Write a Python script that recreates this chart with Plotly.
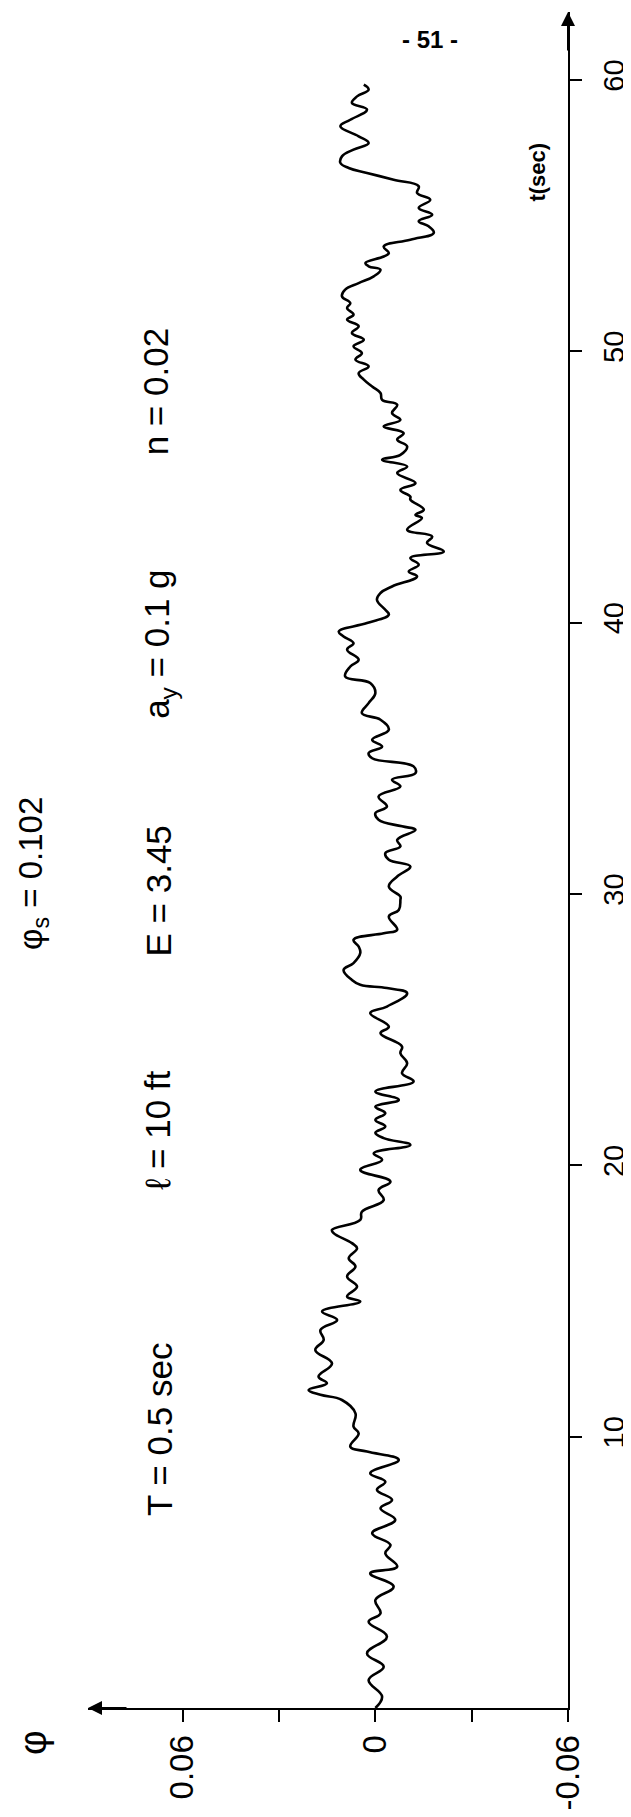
import plotly.graph_objects as go

# time (s) and rotation phi
t_sec = [0.0, 0.42, 1.03, 1.52, 2.01, 2.63, 3.18, 3.49, 3.98, 4.47, 4.96, 5.21, 5.70, 6.01, 6.44,
         6.93, 7.36, 7.67, 8.04, 8.34, 8.65, 9.14, 9.45, 9.63, 10.12, 10.37, 10.86, 11.35, 11.54,
         11.72, 11.97, 12.21, 12.70, 13.19, 13.56, 13.93, 14.30, 14.61, 14.98,
         15.16, 15.53, 15.90, 16.27, 16.57, 16.94, 17.13, 17.50, 17.62, 17.99, 18.29, 18.72, 19.09,
         19.40, 19.83, 20.20, 20.44, 20.75, 21.00, 21.20, 21.43, 21.67, 21.92, 22.16, 22.41, 22.72,
         23.09, 23.39, 23.76, 24.13, 24.38, 24.87, 25.11, 25.61, 25.85, 26.34, 26.53, 26.65, 26.83,
         27.20, 27.45, 27.82, 28.06, 28.31, 28.55, 28.68, 29.17, 29.41, 29.78,
         29.90, 30.27, 30.64, 31.01, 31.26, 31.50, 31.75, 31.99, 32.36, 32.49, 32.73, 32.98, 33.22,
         33.59, 33.96, 34.21, 34.45, 34.70, 35.00, 35.19, 35.43, 35.68, 36.05, 36.42, 36.66, 37.03,
         37.40, 37.77, 38.01, 38.38, 38.63, 39.00, 39.24, 39.49, 39.67, 39.98, 40.29, 40.47, 40.84,
         41.09, 41.33, 41.70, 41.88, 42.13, 42.38, 42.62, 42.93, 43.17, 43.42, 43.85, 43.97, 44.16,
         44.53, 44.64, 44.89, 45.14, 45.51, 45.75, 46.00, 46.18, 46.49, 46.74, 46.98, 47.23, 47.47,
         47.72, 48.03, 48.21, 48.46, 48.70, 48.95, 49.19, 49.44, 49.69, 49.93, 50.18, 50.42, 50.67,
         50.92, 51.16, 51.35, 51.59, 51.77, 52.02, 52.27, 52.51, 52.76, 53.00, 53.13, 53.25, 53.49,
         53.62, 53.86, 54.11, 54.36, 54.60, 54.79, 55.03, 55.28, 55.58, 55.83, 56.08, 56.32, 56.57,
         56.75, 56.94, 57.18, 57.43, 57.67, 57.92, 58.29, 58.53, 58.90, 59.15, 59.39, 59.64, 59.82]

phi = [0.0, -0.0021, 0.0021, -0.0026, 0.0026, -0.0036, 0.0021, -0.0016, 0.0000, -0.0057, 0.0016,
       -0.0068, -0.0031, -0.0047, 0.0010, -0.0062, -0.0016, -0.0052, -0.0005, -0.0031, 0.0016,
       -0.0073, 0.0026, 0.0078, 0.0052, 0.0068, 0.0062, 0.0104, 0.0171, 0.0208, 0.0151, 0.0177,
       0.0135, 0.0187, 0.0161, 0.0171, 0.0119, 0.0166, 0.0047,
       0.0088, 0.0057, 0.0088, 0.0062, 0.0083, 0.0057, 0.0073, 0.0130, 0.0135, 0.0047, 0.0042,
       -0.0026, -0.0010, -0.0047, 0.0047, -0.0021, 0.0005, -0.0109, -0.0026, 0.0000, -0.0031,
       0.0000, -0.0031, 0.0000, -0.0073, 0.0000, -0.0119, -0.0083, -0.0099, -0.0078, -0.0083,
       -0.0016, -0.0042, 0.0016, -0.0036, -0.0099, -0.0036, 0.0047, 0.0073, 0.0099, 0.0068,
       0.0047, 0.0052, 0.0068, -0.0026, -0.0068, -0.0042, -0.0073, -0.0078,
       -0.0078, -0.0042, -0.0068, -0.0109, -0.0042, -0.0031, -0.0078, -0.0068, -0.0125, -0.0083,
       -0.0010, 0.0000, -0.0036, -0.0010, -0.0078, -0.0052, -0.0125, -0.0119, 0.0010, 0.0021,
       -0.0021, 0.0010, -0.0042, -0.0016, 0.0042, 0.0021, 0.0000, 0.0016, 0.0094, 0.0078, 0.0052,
       0.0088, 0.0068, 0.0099, 0.0114, 0.0026, -0.0042, -0.0031, -0.0005, -0.0016, -0.0052,
       -0.0130, -0.0104, -0.0135, -0.0109, -0.0213, -0.0161, -0.0177, -0.0099, -0.0145, -0.0125,
       -0.0151, -0.0109, -0.0109, -0.0078, -0.0125, -0.0068, -0.0099, -0.0021, -0.0078, -0.0099,
       -0.0068, -0.0088, -0.0026, -0.0078, -0.0052, -0.0068, -0.0021, -0.0016, 0.0010, 0.0036,
       0.0052, 0.0021, 0.0062, 0.0042, 0.0068, 0.0036, 0.0073, 0.0052, 0.0088, 0.0068, 0.0088,
       0.0078, 0.0104, 0.0094, 0.0052, 0.0005, -0.0016, 0.0021, 0.0031, -0.0026, -0.0042,
       -0.0026, -0.0109, -0.0182, -0.0166, -0.0135, -0.0177, -0.0135, -0.0171, -0.0130, -0.0135,
       -0.0057, 0.0026, 0.0083, 0.0109, 0.0104, 0.0068, 0.0021, 0.0052, 0.0109, 0.0078, 0.0026,
       0.0073, 0.0057, 0.0021, 0.0036]

phi_ticks = [0.06, 0.03, 0.0, -0.03, -0.06]
phi_tick_labels = ["0.06", "", "0", "", "-0.06"]
t_ticks = [10, 20, 30, 40, 50, 60]
t_tick_labels = ["10", "20", "30", "40", "50", "60"]

PHI_MAX = 0.0895   # arrow tip of phi axis
T_MAX = 62.5       # arrow tip of time axis

FONT = "Liberation Sans"

fig = go.Figure(go.Scatter(
    x=phi, y=t_sec, mode="lines",
    line=dict(color="black", width=2.6, shape="spline", smoothing=1.2),
    hoverinfo="skip"))

# the page adds an 8 px body margin, so the figure is 8 px smaller than the window
fig.update_layout(
    width=623, height=1809,
    margin=dict(l=80, r=63, t=4, b=109),
    paper_bgcolor="white", plot_bgcolor="white",
    showlegend=False,
    font=dict(family=FONT, color="black"),
)

fig.update_xaxes(
    range=[PHI_MAX, -0.06], tickvals=phi_ticks, ticktext=phi_tick_labels,
    ticks="outside", ticklen=12, tickwidth=2, tickcolor="black",
    showline=True, linewidth=2, linecolor="black", automargin=False,
    showgrid=False, zeroline=False, tickangle=-90, ticklabelstandoff=0,
    tickfont=dict(family=FONT, size=33, color="black"),
)
fig.update_yaxes(
    range=[0, T_MAX], side="right", tickvals=t_ticks, ticktext=t_tick_labels,
    ticks="outside", ticklen=12, tickwidth=2, tickcolor="black",
    showline=True, linewidth=2, linecolor="black", automargin=False,
    showgrid=False, zeroline=False, tickangle=-90, ticklabelstandoff=7,
    tickfont=dict(family=FONT, size=29, color="black"),
)

# axis arrowheads
fig.add_annotation(x=PHI_MAX, y=0, xref="x", yref="y", text="", showarrow=True,
                   ax=40, ay=0, arrowhead=2, arrowsize=1.4, arrowwidth=2, arrowcolor="black")
fig.add_annotation(x=-0.06, y=T_MAX, xref="x", yref="y", text="", showarrow=True,
                   ax=0, ay=40, arrowhead=2, arrowsize=1.4, arrowwidth=2, arrowcolor="black")

labels = [
    ("T = 0.5 sec", 0.067, 10.25, 35),
    ("\u2113 = 10 ft", 0.068, 21.3, 35),
    ("E = 3.45", 0.0676, 30.1, 35),
    ("a<sub>y</sub> = 0.1 g", 0.0672, 39.2, 35),
    ("n = 0.02", 0.0685, 48.5, 35),
]
for txt, x, y, s in labels:
    fig.add_annotation(x=x, y=y, xref="x", yref="y", text=txt, showarrow=False,
                       textangle=-90, font=dict(family=FONT, size=s, color="black"))

# texts lying left of the phi range (paper coordinates)
fig.add_annotation(x=-0.116, y=0.492, xref="paper", yref="paper",
                   xanchor="center", yanchor="middle",
                   text="\u03c6<sub>s</sub> = 0.102", showarrow=False, textangle=-90,
                   font=dict(family=FONT, size=33, color="black"))
fig.add_annotation(x=-0.1146, y=-0.02, xref="paper", yref="paper",
                   xanchor="center", yanchor="middle",
                   text="\u03c6", showarrow=False, textangle=-90,
                   font=dict(family=FONT, size=38, color="black"))

fig.add_annotation(x=-0.0505, y=56.6, xref="x", yref="y", text="<b>t(sec)</b>", showarrow=False,
                   textangle=-90, font=dict(family=FONT, size=22, color="black"))
fig.add_annotation(x=-0.0171, y=61.5, xref="x", yref="y", text="<b>- 51 -</b>", showarrow=False,
                   font=dict(family=FONT, size=24, color="black"))

fig.write_html("out.html")
